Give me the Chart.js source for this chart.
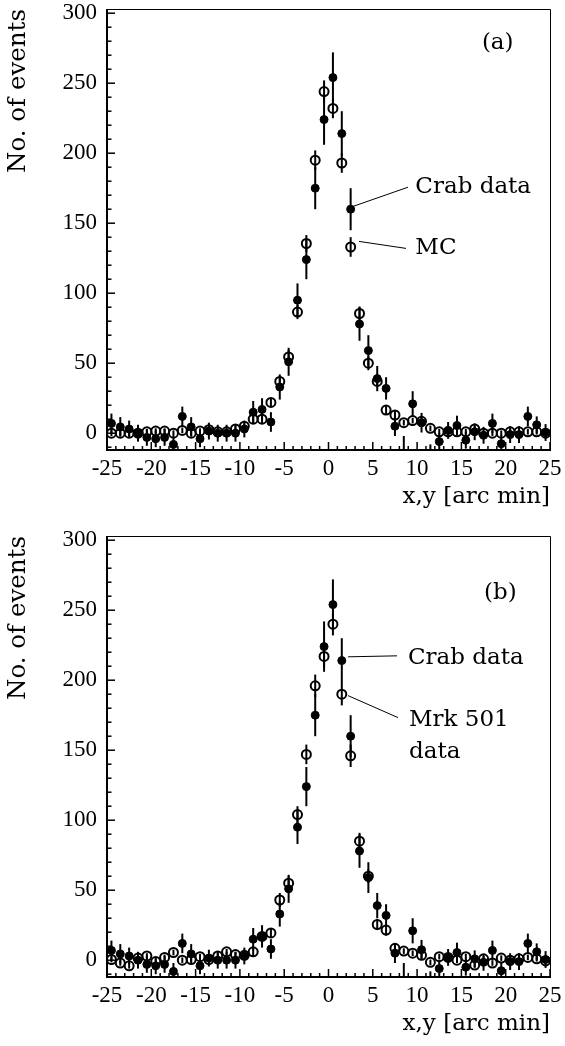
<!DOCTYPE html>
<html>
<head>
<meta charset="utf-8">
<script src="https://cdn.jsdelivr.net/npm/chart.js@4/dist/chart.umd.min.js"></script>
<style>
  html, body { margin: 0; padding: 0; background: #fff; overflow: hidden; }
  #wrap { position: relative; width: 565px; height: 1046px; }
  canvas { position: absolute; left: 0; }
</style>
</head>
<body>
<div id="wrap">
  <canvas id="panelA" width="565" height="523" style="top:0px"></canvas>
  <canvas id="panelB" width="565" height="523" style="top:527px"></canvas>
</div>
<script>
// bin centres, arc min
var xBins = [-24.5,-23.5,-22.5,-21.5,-20.5,-19.5,-18.5,-17.5,-16.5,-15.5,-14.5,-13.5,-12.5,-11.5,-10.5,-9.5,
             -8.5,-7.5,-6.5,-5.5,-4.5,-3.5,-2.5,-1.5,-0.5,0.5,1.5,2.5,3.5,4.5,5.5,6.5,
             7.5,8.5,9.5,10.5,11.5,12.5,13.5,14.5,15.5,16.5,17.5,18.5,19.5,20.5,21.5,22.5,23.5,24.5];

// Crab data (filled circles), same in both panels
var crab    = [7,4.5,3,0,-3,-4,-3,-8,12,4.5,-4,1.5,0,0,0,3,
               15,17,8,33,51,95,124,175,224,254,214,160,78,59,39,32,
               5,-15,21,7.5,-20,-6,2,5.5,-5,1,-1.5,7,-7.5,-1,-1,12,6,0.5];
var crabErr = [7,7,6,6,6,6,6,6,7,7,6,6,6,6,6,6,
               8,8,7,9,10,12,14,15,18,18,16,15,12,11,9,8,
               7,13,9,7,12,6,6,7,6,6,6,7,6,6,6,7,6,6];

// MC (open circles, panel a)
var mc      = [0,0,0,0,1,1.5,1.5,0,2,0,1.5,2.5,1,1,3,5,
               10,10,22,37,54.5,86.5,135.5,195,244,232,193,133,85.5,50,37,16.5,
               13,7.5,9,8.5,3.5,1,1,1,1,3,0,0,0,1,1,1,1,0];
var mcErr   = [2,2,2,2,2,2,2,2,2,2,2,2,2,2,2,2,
               3,3,3,4,5,5,6,7,8,7,7,7,5,5,4,3,
               3,2,2,2,2,2,2,2,2,2,2,2,2,2,2,2,2,2];

// Mrk 501 data (open circles, panel b)
var mrk     = [0.5,-2,-4,1.5,3,-1,2,5.5,0,0.5,2.5,0.5,3,6,4,3.5,
               6,17,19.5,43,55,104,147,196,217,240,190,146,85,60,25.5,21.5,
               8.5,6.5,5,3.5,-1.5,2.5,2,0,2.5,-3.5,1,-2,1.5,0,1,2,1,-0.5];
var mrkErr  = [2,2,2,2,2,2,2,2,2,2,2,2,2,2,2,2,
               3,3,3,5,5,6,7,8,8,8,8,8,6,5,4,4,
               3,2,2,2,2,2,2,2,2,2,2,2,2,2,2,2,2,2];

// tick positions (labels only on multiples of 50 / 5)
var yTicks = [-10,0,10,20,30,40,50,60,70,80,90,100,110,120,130,140,150,160,170,180,190,200,
              210,220,230,240,250,260,270,280,290,300];
var yLabelStep = 50;
var xLabelStep = 5;

var serifText = "'DejaVu Serif', serif";
var serifNum = "'Liberation Serif', serif";

function points(vals, errs) {
  return vals.map(function(v, i) { return {x: xBins[i], y: v, err: errs[i]}; });
}

// error bars under the markers, frame + inward ticks + labels on top
var panelDecor = {
  id: 'panelDecor',
  beforeDatasetsDraw: function(chart) {
    var ctx = chart.ctx, a = chart.chartArea, x = chart.scales.x, y = chart.scales.y;
    ctx.save();
    ctx.beginPath();
    ctx.rect(a.left, a.top, a.right - a.left, a.bottom - a.top);
    ctx.clip();
    ctx.strokeStyle = '#000';
    ctx.lineWidth = 2;
    chart.data.datasets.forEach(function(ds) {
      ds.data.forEach(function(p) {
        var px = x.getPixelForValue(p.x);
        ctx.beginPath();
        ctx.moveTo(px, y.getPixelForValue(p.y - p.err));
        ctx.lineTo(px, y.getPixelForValue(p.y + p.err));
        ctx.stroke();
      });
    });
    ctx.restore();
  },
  afterDraw: function(chart, args, opts) {
    var ctx = chart.ctx, a = chart.chartArea, x = chart.scales.x, y = chart.scales.y;
    ctx.save();
    ctx.strokeStyle = '#000';
    // frame
    ctx.lineWidth = 1;
    ctx.beginPath();
    ctx.moveTo(a.left, a.top + 0.5); ctx.lineTo(a.right + 0.5, a.top + 0.5);
    ctx.lineTo(a.right + 0.5, a.bottom);
    ctx.stroke();
    ctx.lineWidth = 2;
    ctx.beginPath();
    ctx.moveTo(a.left, a.top); ctx.lineTo(a.left, a.bottom); ctx.lineTo(a.right + 1, a.bottom);
    ctx.stroke();
    // ticks pointing inwards
    ctx.lineWidth = 1.5;
    y.ticks.forEach(function(t) {
      var py = y.getPixelForValue(t.value);
      var len = t.value % yLabelStep === 0 ? 8 : 4.5;
      ctx.beginPath(); ctx.moveTo(a.left, py); ctx.lineTo(a.left + len, py); ctx.stroke();
    });
    x.ticks.forEach(function(t) {
      var px = x.getPixelForValue(t.value);
      var len = t.value % xLabelStep === 0 ? 8 : 4;
      ctx.beginPath(); ctx.moveTo(px, a.bottom); ctx.lineTo(px, a.bottom - len); ctx.stroke();
    });
    // leader lines and labels
    ctx.lineWidth = 1;
    ctx.fillStyle = '#000';
    ctx.font = '23px ' + serifText;
    ctx.textBaseline = 'middle';
    (opts.notes || []).forEach(function(n) {
      if (n.from) {
        ctx.beginPath();
        ctx.moveTo(x.getPixelForValue(n.from[0]), y.getPixelForValue(n.from[1]));
        ctx.lineTo(x.getPixelForValue(n.to[0]), y.getPixelForValue(n.to[1]));
        ctx.stroke();
      }
      ctx.textAlign = n.align || 'left';
      ctx.fillText(n.text, x.getPixelForValue(n.at[0]), y.getPixelForValue(n.at[1]));
    });
    ctx.restore();
  }
};

function makePanel(id, openVals, openErrs, notes) {
  var ctx = document.getElementById(id).getContext('2d');
  return new Chart(ctx, {
    type: 'scatter',
    data: {
      datasets: [{
        label: 'Crab data',
        data: points(crab, crabErr),
        pointStyle: 'circle',
        pointRadius: 4,
        borderWidth: 1,
        borderColor: '#000',
        backgroundColor: '#000',
        clip: 0
      }, {
        label: 'open',
        data: points(openVals, openErrs),
        pointStyle: 'circle',
        pointRadius: 4.5,
        borderWidth: 2,
        borderColor: '#000',
        backgroundColor: 'rgba(255,255,255,0)',
        clip: 0
      }]
    },
    options: {
      responsive: false,
      animation: false,
      events: [],
      layout: { padding: { left: 0, right: 15, top: 9, bottom: 0 } },
      plugins: {
        legend: { display: false },
        tooltip: { enabled: false },
        panelDecor: { notes: notes }
      },
      scales: {
        x: {
          type: 'linear',
          position: 'bottom',
          min: -25, max: 25,
          grid: { display: false, drawTicks: false },
          border: { display: false },
          ticks: {
            stepSize: 1, autoSkip: false, maxRotation: 0, padding: 5,
            color: '#000',
            font: { family: serifNum, size: 23 },
            callback: function(v) { return v % xLabelStep === 0 ? v : ''; }
          },
          title: {
            display: true, text: 'x,y [arc min]', align: 'end', color: '#000',
            font: { family: serifText, size: 23 },
            padding: { top: 0, bottom: 12 }
          },
          afterFit: function(s) { s.height = 73; s.paddingLeft = 0; s.paddingRight = 0; }
        },
        y: {
          min: -12, max: 303,
          grid: { display: false, drawTicks: false },
          border: { display: false },
          afterBuildTicks: function(s) {
            s.ticks = yTicks.map(function(v) { return {value: v}; });
          },
          ticks: {
            autoSkip: false, padding: 10,
            color: '#000',
            font: { family: serifNum, size: 23 },
            callback: function(v) { return v % yLabelStep === 0 ? v : ''; }
          },
          title: {
            display: true, text: 'No. of events', align: 'end', color: '#000',
            font: { family: serifText, size: 24.5 },
            padding: { top: 4, bottom: 0 }
          },
          afterFit: function(s) { s.width = 107; s.paddingTop = 0; s.paddingBottom = 0; }
        }
      }
    },
    plugins: [panelDecor]
  });
}

makePanel('panelA', mc, mcErr, [
  { text: '(a)', at: [19.1, 279], align: 'center' },
  { text: 'Crab data', at: [9.8, 176], from: [2.77, 162], to: [8.97, 175.7] },
  { text: 'MC', at: [9.8, 132], from: [3.44, 137], to: [8.75, 132] }
]);

makePanel('panelB', mrk, mrkErr, [
  { text: '(b)', at: [19.4, 262.5], align: 'center' },
  { text: 'Crab data', at: [8.97, 216], from: [2.2, 216.7], to: [7.73, 217.4] },
  { text: 'Mrk 501', at: [9.08, 171.4], from: [2.2, 189], to: [7.84, 173.3] },
  { text: 'data', at: [9.08, 148.4] }
]);
</script>
</body>
</html>
